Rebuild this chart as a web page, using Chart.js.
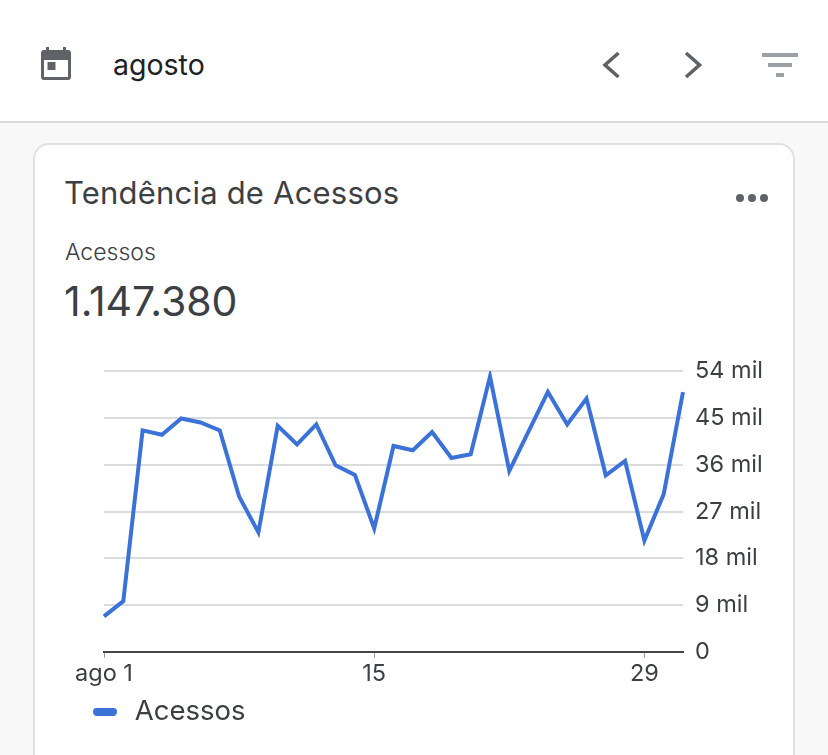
<!DOCTYPE html>
<html lang="pt-BR">
<head>
<meta charset="utf-8">
<title>Tendência de Acessos</title>
<script src="https://cdn.jsdelivr.net/npm/chart.js@4"></script>
<style>
  html, body { margin: 0; padding: 0; }
  body { width: 828px; height: 755px; background: #f8f8f8; overflow: hidden; position: relative; font-family: Inter, "Noto Sans", sans-serif; color: #3c4043; }
  .topo { position: absolute; left: 0; top: 0; width: 828px; height: 121px; background: #fff; border-bottom: 2px solid #d9dadd; }
  .cardd { position: absolute; left: 33px; top: 143px; width: 758px; height: 640px; background: #fff; border: 2px solid #dfe1e5; border-radius: 16px; }
  .txt { position: absolute; white-space: nowrap; line-height: 1; }
  svg { position: absolute; }
  canvas { position: absolute; left: 34px; top: 345px; }
</style>
</head>
<body>
<div class="topo"></div>
<div class="cardd"></div>

<!-- calendario -->
<svg style="left:41px;top:47px" width="30" height="33" viewBox="0 0 30 33">
  <path fill="#5f6368" d="M5 0h3v3h14V0h3v3h2a3 3 0 0 1 3 3v24a3 3 0 0 1-3 3H3a3 3 0 0 1-3-3V6a3 3 0 0 1 3-3h2z"/>
  <rect x="3" y="13" width="24" height="17" fill="#fff"/>
  <rect x="6.5" y="15" width="8" height="8" fill="#5f6368"/>
</svg>
<div class="txt" style="left:113px;top:51px;font-size:28.5px;color:#202124" id="mes">agosto</div>

<!-- navegacao e filtro -->
<svg style="left:600px;top:50px" width="24" height="30"><path d="M18.5 3 L5 15 L18.5 27" fill="none" stroke="#5f6368" stroke-width="3.6"/></svg>
<svg style="left:680px;top:50px" width="24" height="30"><path d="M6 3 L19.5 15 L6 27" fill="none" stroke="#5f6368" stroke-width="3.6"/></svg>
<svg style="left:760px;top:53px" width="40" height="26">
  <rect x="2" y="0" width="36" height="4" fill="#9aa0a6"/>
  <rect x="8" y="10" width="24" height="4" fill="#9aa0a6"/>
  <rect x="16" y="20" width="8" height="4" fill="#9aa0a6"/>
</svg>

<div class="txt" style="left:64px;top:177px;font-size:31px;letter-spacing:0.2px" id="titulo">Tendência de Acessos</div>
<svg style="left:734px;top:190px" width="36" height="14">
  <circle cx="6" cy="8" r="4" fill="#5f6368"/><circle cx="18" cy="8" r="4" fill="#5f6368"/><circle cx="30" cy="8" r="4" fill="#5f6368"/>
</svg>
<div class="txt" style="left:65px;top:241px;font-size:23px;font-weight:300" id="rotulo">Acessos</div>
<div class="txt" style="left:64px;top:281px;font-size:41px" id="total">1.147.380</div>

<canvas id="graficoAcessos" width="760" height="410"></canvas>

<script>
// acessos por dia em agosto
const dias = [1, 2, 3, 4, 5, 6, 7, 8, 9, 10, 11, 12, 13, 14, 15, 16, 17, 18, 19, 20, 21, 22, 23, 24, 25, 26, 27, 28, 29, 30, 31];
const acessos = [6850, 9780, 42600, 41760, 44900, 44130, 42600, 29890, 23000, 43490, 39920, 43750, 35900, 34050, 23760, 39600,
    38770, 42280, 37300, 38000, 52940, 34810, 42410, 50000, 43750, 48730, 33980, 36730, 21410, 30350, 49940];
const rotulosDias = { 1: 'ago 1', 15: '15', 29: '29' };
const passoY = 9000;
const maxY = 54000;

const corLinha = '#3a72d8';
const corTexto = '#3c4043';
const fonteEixo = { family: 'Inter', size: 23.5 };

// marcador da legenda em forma de pilula
const pilula = document.createElement('canvas');
pilula.width = 24;
pilula.height = 8;
const pctx = pilula.getContext('2d');
pctx.fillStyle = corLinha;
pctx.beginPath();
pctx.roundRect(0, 0, 24, 8, 4);
pctx.fill();

const ctx = document.getElementById('graficoAcessos').getContext('2d');
const graficoAcessos = new Chart(ctx, {
    type: 'line',
    data: {
        labels: dias,
        datasets: [{
            label: 'Acessos',
            data: acessos,
            borderColor: corLinha,
            backgroundColor: corLinha,
            borderWidth: 4,
            borderJoinStyle: 'miter',
            pointRadius: 0,
            tension: 0
        }]
    },
    options: {
        responsive: false,
        animation: false,
        layout: { padding: { left: 45, top: 25, bottom: 19.5, right: 0 } },
        plugins: {
            tooltip: { enabled: false },
            legend: {
                position: 'bottom',
                align: 'start',
                labels: {
                    usePointStyle: true,
                    pointStyle: pilula,
                    pointStyleWidth: 32,
                    padding: 10,
                    color: corTexto,
                    font: { family: 'Inter', size: 27.5 }
                }
            }
        },
        scales: {
            x: {
                grid: {
                    drawOnChartArea: false,
                    drawTicks: true,
                    tickLength: 6,
                    color: (c) => rotulosDias[dias[c.index]] ? '#9aa0a6' : 'transparent'
                },
                border: { color: '#444746', width: 2 },
                ticks: {
                    autoSkip: false,
                    maxRotation: 0,
                    padding: 2,
                    color: corTexto,
                    font: fonteEixo,
                    callback: (v, i) => rotulosDias[dias[i]] || ''
                },
                afterFit: (s) => { s.height = 36; }
            },
            y: {
                position: 'right',
                min: 0,
                max: maxY,
                grid: { color: '#dadce0', lineWidth: 2, drawTicks: false },
                border: { display: false },
                ticks: {
                    stepSize: passoY,
                    padding: 12,
                    color: corTexto,
                    font: fonteEixo,
                    callback: (v) => v === 0 ? '0' : (v / 1000) + ' mil'
                },
                afterFit: (s) => { s.width = 111; }
            },
            // coluna vazia: deixa a legenda comecar antes da area do grafico
            margem: {
                position: 'left',
                grid: { display: false },
                border: { display: false },
                ticks: { display: false },
                afterFit: (s) => { s.width = 25; }
            }
        }
    }
});
</script>
</body>
</html>
